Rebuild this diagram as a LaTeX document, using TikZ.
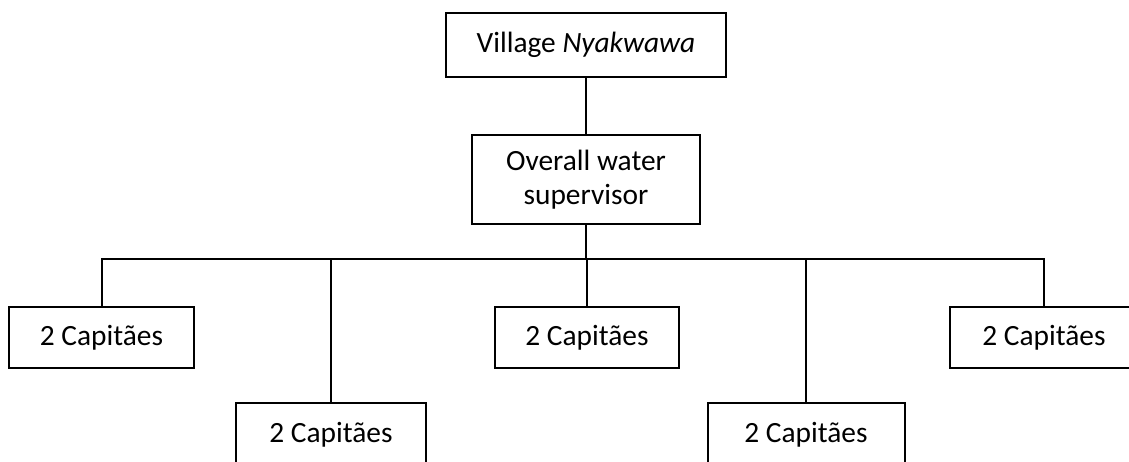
\documentclass[tikz,border=0pt]{standalone}
\usepackage{fontspec}
\setmainfont{Carlito}
\begin{document}
\begin{tikzpicture}[x=1bp,y=-1bp,
  orgbox/.style={draw=black, line width=2bp, rectangle, inner sep=0pt, align=center,
    font=\fontsize{29.5}{34}\selectfont},
  conn/.style={draw=black, line width=2bp}]
\useasboundingbox (0,0) rectangle (1129,462);
\clip (0,0) rectangle (1129,462);
\fill[white] (0,0) rectangle (1129,462);
\node[orgbox, minimum width=280bp, minimum height=64bp] (top) at (586,45) {Village \textit{Nyakwawa}};
\node[orgbox, minimum width=228bp, minimum height=89bp] (mid) at (586,179.5) {Overall water\\supervisor};
\node[orgbox, minimum width=185bp, minimum height=61bp] (b1) at (101.5,337.5) {2 Capitães};
\node[orgbox, minimum width=190bp, minimum height=62bp] (b2) at (331,434.5) {2 Capitães};
\node[orgbox, minimum width=184bp, minimum height=61bp] (b3) at (587,337.5) {2 Capitães};
\node[orgbox, minimum width=197bp, minimum height=62bp] (b4) at (806,434.5) {2 Capitães};
\node[orgbox, minimum width=188bp, minimum height=61bp] (b5) at (1044,337.5) {2 Capitães};
\coordinate (bus) at (587,259);
\draw[conn] (top.south) -- (mid.north);
\draw[conn] (mid.south) -- (mid.south |- bus);
\draw[conn] (b1.north) |- (bus) -| (b5.north);
\draw[conn] (b2.north) -- (b2.north |- bus);
\draw[conn] (b3.north) -- (b3.north |- bus);
\draw[conn] (b4.north) -- (b4.north |- bus);
\end{tikzpicture}
\end{document}
